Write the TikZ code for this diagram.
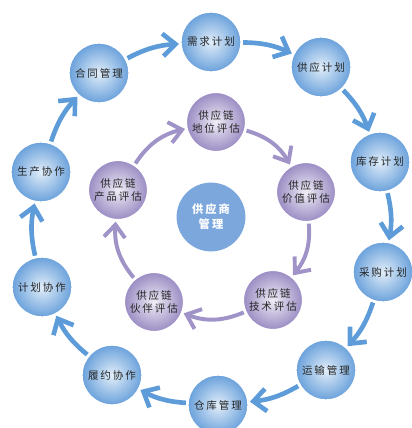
\documentclass[tikz,border=0pt]{standalone}
\usepackage{fontspec}
\newfontfamily\cjk[LetterSpace=18]{Noto Sans CJK SC}
\usepackage{tikz}
\usetikzlibrary{arrows.meta, positioning, shadings}
\definecolor{planblue}{HTML}{6AA1DB}
\definecolor{planlight}{HTML}{E2EEF9}
\definecolor{arrowblue}{HTML}{5D9CD8}
\definecolor{evalpurple}{HTML}{9A8CC3}
\definecolor{evallight}{HTML}{F0EDF6}
\definecolor{arrowpurple}{HTML}{A093C8}
\definecolor{hubblue}{HTML}{7BA7DC}

\begin{document}
\begin{tikzpicture}[
			x=0.025cm, y=-0.025cm,
			plan/.style={circle, draw=white, line width=1pt, inner color=planlight, outer color=planblue, minimum size=1.5cm, inner sep=0pt, font=\cjk\fontsize{7.5}{9}\selectfont, text=black!85},
			evalnode/.style={circle, draw=white, line width=1pt, inner color=evallight, outer color=evalpurple, minimum size=1.48cm, inner sep=0pt, align=center, font=\cjk\fontsize{7.5}{9}\selectfont, text=black!85},
			hub/.style={circle, fill=hubblue, minimum size=1.72cm, inner sep=0pt, align=center, font=\cjk\bfseries\fontsize{8}{10.5}\selectfont, text=white},
			bluearrow/.style={-{Straight Barb[length=9pt, width=16pt]}, line width=3.3pt, draw=arrowblue, shorten >=1pt, shorten <=1pt},
			purplearrow/.style={-{Straight Barb[length=9pt, width=15pt]}, line width=2.8pt, draw=arrowpurple, shorten >=1pt, shorten <=1pt},
			]
			\useasboundingbox (0,0) rectangle (412,428);
			
			% ---- outer ring ----
			\node[plan] (need) at (211,42) {需求计划};
			\node[plan] (supply) at (321,67) {供应计划};
			\node[plan] (stock) at (380,162) {库存计划};
			\node[plan] (buy) at (383,272) {采购计划};
			\node[plan] (ship) at (326,370) {运输管理};
			\node[plan] (store) at (218,405) {仓库管理};
			\node[plan] (fulfil) at (112,375) {履约协作};
			\node[plan] (plancoop) at (42,287) {计划协作};
			\node[plan] (prodcoop) at (41,172) {生产协作};
			\node[plan] (contract) at (99,73) {合同管理};
			
			\draw[bluearrow] (need) to[bend left=12] (supply);
			\draw[bluearrow] (supply) to[bend left=12] (stock);
			\draw[bluearrow] (stock) to[bend left=12] (buy);
			\draw[bluearrow] (buy) to[bend left=12] (ship);
			\draw[bluearrow] (ship) to[bend left=12] (store);
			\draw[bluearrow] (store) to[bend left=12] (fulfil);
			\draw[bluearrow] (fulfil) to[bend left=12] (plancoop);
			\draw[bluearrow] (plancoop) to[bend left=12] (prodcoop);
			\draw[bluearrow] (prodcoop) to[bend left=12] (contract);
			\draw[bluearrow] (contract) to[bend left=12] (need);
			
			% ---- inner ring ----
			\node[evalnode] (rank) at (216,122) {供应链\\地位评估};
			\node[evalnode] (value) at (306,192) {供应链\\价值评估};
			\node[evalnode] (tech) at (273,300) {供应链\\技术评估};
			\node[evalnode] (partner) at (154,302) {供应链\\伙伴评估};
			\node[evalnode] (product) at (118,190) {供应链\\产品评估};
			
			\draw[purplearrow] (rank) to[bend left=22] (value);
			\draw[purplearrow] (value) to[bend left=22] (tech);
			\draw[purplearrow] (tech) to[bend left=22] (partner);
			\draw[purplearrow] (partner) to[bend left=22] (product);
			\draw[purplearrow] (product) to[bend left=22] (rank);
			
			% ---- centre ----
			\node[hub] (supplier) at (211,217) {供应商\\管理};
			
		\end{tikzpicture}
\end{document}
